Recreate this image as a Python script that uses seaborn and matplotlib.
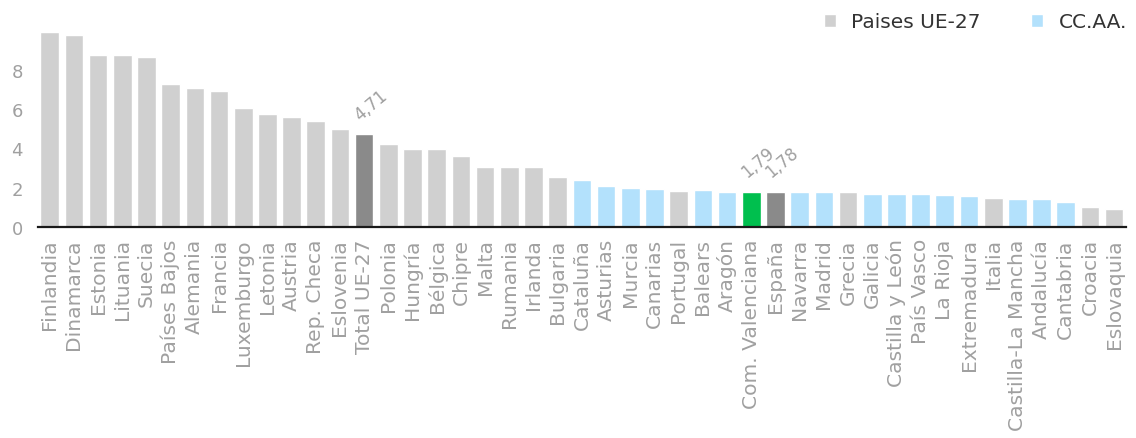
import matplotlib
matplotlib.use("Agg")
import matplotlib.pyplot as plt
from matplotlib.patches import Patch
import pandas as pd
import seaborn as sns

regiones = ['Finlandia', 'Dinamarca', 'Estonia', 'Lituania', 'Suecia', 'Países Bajos',
            'Alemania', 'Francia', 'Luxemburgo', 'Letonia', 'Austria', 'Rep. Checa',
            'Eslovenia', 'Total UE-27', 'Polonia', 'Hungría', 'Bélgica', 'Chipre', 'Malta',
            'Rumania', 'Irlanda', 'Bulgaria', 'Cataluña', 'Asturias', 'Murcia', 'Canarias',
            'Portugal', 'Balears', 'Aragón', 'Com. Valenciana', 'España', 'Navarra', 'Madrid',
            'Grecia', 'Galicia', 'Castilla y León', 'País Vasco', 'La Rioja', 'Extremadura',
            'Italia', 'Castilla-La Mancha', 'Andalucía', 'Cantabria', 'Croacia', 'Eslovaquia']

valores = [9.94, 9.75, 8.73, 8.73, 8.65, 7.26, 7.09, 6.90, 6.07, 5.73, 5.60, 5.41,
           5.00, 4.71, 4.25, 3.97, 3.97, 3.63, 3.07, 3.07, 3.07, 2.56, 2.41, 2.10, 2.00,
           1.95, 1.85, 1.90, 1.80, 1.79, 1.78, 1.78, 1.78, 1.78, 1.66, 1.66, 1.66, 1.61,
           1.56, 1.46, 1.41, 1.41, 1.26, 1.00, 0.92]

# UE = pais, CA = comunidad autonoma, TOT = totales, CV = Com. Valenciana
grupo = ['UE'] * 13 + ['TOT'] + ['UE'] * 8 + ['CA'] * 4 + ['UE'] + ['CA'] * 2 + ['CV', 'TOT'] \
        + ['CA'] * 2 + ['UE'] + ['CA'] * 5 + ['UE'] + ['CA'] * 3 + ['UE'] * 2

etiquetas = {'Total UE-27': '4,71', 'Com. Valenciana': '1,79', 'España': '1,78'}

colores = {'UE': '#d0d0d0', 'CA': '#b3e1fc', 'TOT': '#8a8a8a', 'CV': '#00bf4e'}
gris_texto = '#a0a0a0'

sns.set_theme(style='white')
plt.rcParams['font.family'] = ['DejaVu Sans']

df = pd.DataFrame({'region': regiones, 'valor': valores, 'grupo': grupo})

fig = plt.figure(figsize=(11.36, 4.39), dpi=100)
ax = fig.add_axes([0.0335, 0.4806, 0.9575, 0.4476])

sns.barplot(data=df, x='region', y='valor', hue='grupo', palette=colores,
            dodge=False, width=0.77, saturation=1, legend=False, ax=ax)

for i, (reg, val) in enumerate(zip(regiones, valores)):
    if reg in etiquetas:
        ax.text(i - 0.18, val + 0.72, etiquetas[reg], rotation=40, rotation_mode='anchor',
                ha='left', va='baseline', fontsize=12, color=gris_texto)

ax.set_xlim(-0.48, len(regiones) - 0.52)
ax.set_ylim(0, 10)
ax.set_yticks([0, 2, 4, 6, 8])
ax.set_xlabel('')
ax.set_ylabel('')
ax.tick_params(axis='y', length=0, pad=11, labelsize=13, labelcolor=gris_texto)
ax.tick_params(axis='x', length=0, pad=8, labelsize=14.6, labelcolor=gris_texto, rotation=90)
for lado in ['top', 'right', 'left']:
    ax.spines[lado].set_visible(False)
ax.spines['bottom'].set_color('#1a1a1a')
ax.spines['bottom'].set_linewidth(1.6)

handles = [Patch(facecolor=colores['UE'], label='Paises UE-27'),
           Patch(facecolor=colores['CA'], label='CC.AA.')]
fig.legend(handles=handles, loc='center right', bbox_to_anchor=(0.999, 0.948), ncol=2,
           frameon=False, fontsize=14.5, handlelength=0.6, handleheight=0.6,
           handletextpad=0.75, columnspacing=2.5, labelcolor='#333333', borderaxespad=0)

fig.savefig('out.png', dpi=100)
